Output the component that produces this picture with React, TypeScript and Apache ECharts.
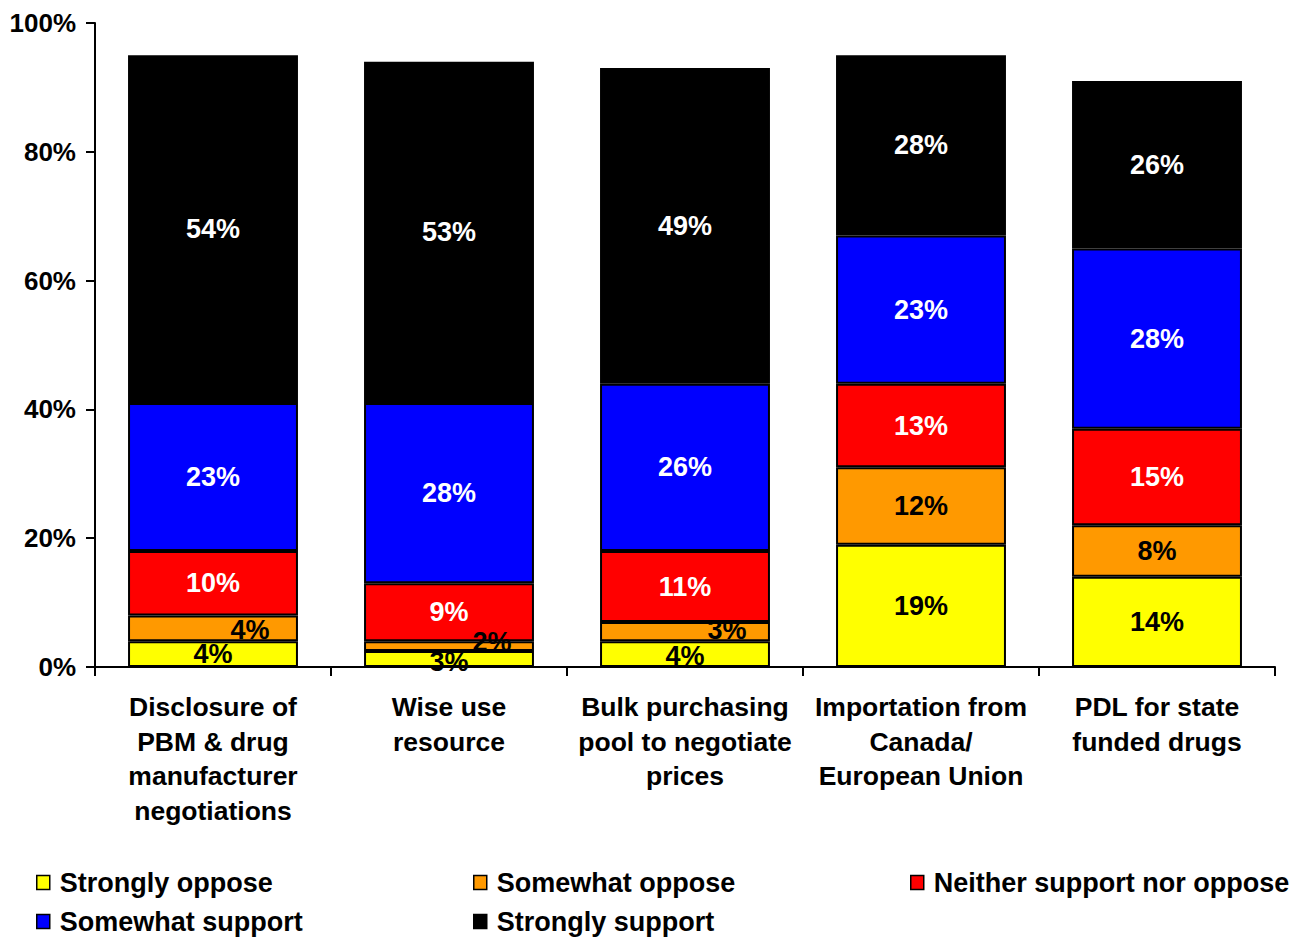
import React, { useEffect, useRef } from "react";
import * as echarts from "echarts";

const categories = [
  "Disclosure of\nPBM & drug\nmanufacturer\nnegotiations",
  "Wise use\nresource",
  "Bulk purchasing\npool to negotiate\nprices",
  "Importation from\nCanada/\nEuropean Union",
  "PDL for state\nfunded drugs",
];
const seriesNames = [
  "Strongly oppose",
  "Somewhat oppose",
  "Neither support nor oppose",
  "Somewhat support",
  "Strongly support",
];
const stronglyOppose = [4, 2.5, 4, 19, 14];
const somewhatOppose = [4, 1.5, 3, 12, 8];
const neitherSupportNorOppose = [10, 9, 11, 13, 15];
const somewhatSupport = [23, 28, 26, 23, 28];
const stronglySupport = [54, 53, 49, 28, 26];
const yTicks = [0, 20, 40, 60, 80, 100];

const colors = ["#FFFF00", "#FF9900", "#FF0000", "#0000FF", "#000000"];
const labelColors = ["#000", "#000", "#fff", "#fff", "#fff"];
// label offsets for the small segments, by series index then category index
const labelOffsets: Record<number, Record<number, number[]>> = {
  0: { 1: [0, 3], 2: [0, 2] },
  1: { 0: [37, 2], 1: [43, -4], 2: [42, -2] },
};

const FONT = "'Liberation Sans', Arial, sans-serif";

export default function App() {
  const ref = useRef<HTMLDivElement>(null);
  useEffect(() => {
    const chart = echarts.init(ref.current!, null, { renderer: "svg" });
    const allValues = [
      stronglyOppose,
      somewhatOppose,
      neitherSupportNorOppose,
      somewhatSupport,
      stronglySupport,
    ];
    const series = allValues.map((vals, si) => ({
      name: seriesNames[si],
      type: "bar",
      stack: "total",
      barCategoryGap: "28%",
      itemStyle: { color: colors[si], borderColor: "#000", borderWidth: 2 },
      label: {
        show: true,
        position: "inside",
        color: labelColors[si],
        fontFamily: FONT,
        fontWeight: "bold",
        fontSize: 27,
        formatter: (p: any) => Math.round(p.value) + "%",
      },
      data: vals.map((v, ci) => {
        const off = labelOffsets[si] && labelOffsets[si][ci];
        return off ? { value: v, label: { offset: off } } : { value: v };
      }),
    }));
    const legendCols = [36, 473, 910];
    const legends = seriesNames.map((n, i) => ({
      data: [n],
      left: legendCols[i % 3],
      top: i < 3 ? 869 : 908,
      icon: "rect",
      itemWidth: 13,
      itemHeight: 14,
      itemGap: 0,
      padding: 0,
      textStyle: {
        fontFamily: FONT,
        fontWeight: "bold",
        fontSize: 27,
        color: "#000",
        padding: [0, 0, 0, 5],
      },
      itemStyle: { borderColor: "#000", borderWidth: 1.5 },
    }));
    chart.setOption({
      animation: false,
      backgroundColor: "#fff",
      grid: { left: 95, right: 29, top: 23, bottom: 270, containLabel: false },
      legend: legends,
      xAxis: {
        type: "category",
        data: categories,
        axisLine: { lineStyle: { color: "#000", width: 2 } },
        axisTick: { show: true, length: 9, lineStyle: { color: "#000", width: 2 } },
        axisLabel: {
          interval: 0,
          margin: 23,
          color: "#000",
          fontFamily: FONT,
          fontWeight: "bold",
          fontSize: 26.5,
          lineHeight: 34.5,
        },
      },
      yAxis: {
        type: "value",
        min: yTicks[0],
        max: yTicks[yTicks.length - 1],
        interval: 20,
        splitLine: { show: false },
        axisLine: { show: true, lineStyle: { color: "#000", width: 2 } },
        axisTick: { show: true, length: 9, lineStyle: { color: "#000", width: 2 } },
        axisLabel: {
          margin: 19,
          color: "#000",
          fontFamily: FONT,
          fontWeight: "bold",
          fontSize: 26,
          formatter: "{value}%",
        },
      },
      series,
    });
    return () => chart.dispose();
  }, []);
  return (
    <div
      ref={ref}
      style={{ position: "absolute", left: 0, top: 0, width: 1304, height: 937 }}
    />
  );
}
